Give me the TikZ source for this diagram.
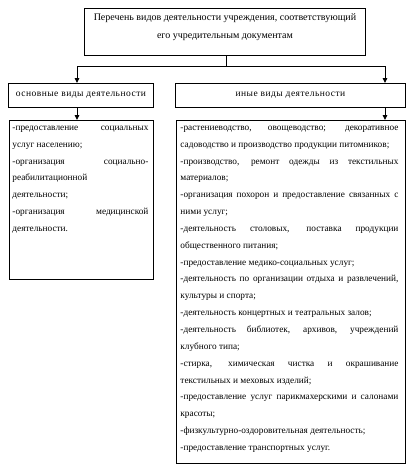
\documentclass[tikz,border=0pt]{standalone}
\usepackage{fontspec}
\setmainfont{Liberation Serif}
\usetikzlibrary{arrows.meta}
\begin{document}
\begin{tikzpicture}[x=1pt,y=-1pt,
  boxstyle/.style={draw, line width=0.9pt, inner sep=0pt, anchor=north west},
  headbox/.style={boxstyle, minimum height=24pt, align=center, font=\fontsize{9.5}{12}\selectfont\addfontfeature{LetterSpace=5}},
  conn/.style={line width=0.9pt},
  arr/.style={conn, -{Triangle[length=5pt,width=4.5pt]}},
  bodyfont/.style={font=\fontsize{9.3}{16.85}\selectfont}]
\useasboundingbox[fill=white] (0,0) rectangle (416,474);
% top box
\node[boxstyle, inner ysep=0pt, font=\fontsize{10}{18}\selectfont] (top) at (84,8)
  {\parbox[t][47pt][t]{281pt}{\centering\vspace*{5pt}Перечень видов деятельности учреждения, соответствующий\\его учредительным документам}};
% heads
\node[headbox, minimum width=145pt] (lhead) at (8,83) {основные виды деятельности};
\node[headbox, minimum width=230pt] (rhead) at (175,83) {иные виды деятельности};
% bodies
\node[boxstyle, bodyfont, inner ysep=5.5pt] (lbody) at (9,120)
  {\hspace*{3pt}\parbox[t][148pt][t]{136pt}{\hyphenpenalty=10000\tolerance=10000\hbadness=10000
  -предоставление социальных\linebreak услуг населению;\par
  -организация социально-\linebreak реабилитационной\\деятельности;\par
  -организация медицинской\linebreak деятельности.}\hspace*{5pt}};
\node[boxstyle, bodyfont, inner ysep=5.5pt] (rbody) at (176,120)
  {\hspace*{4pt}\parbox[t][332pt][t]{218pt}{\hyphenpenalty=10000\tolerance=10000\hbadness=10000
  -растениеводство, овощеводство; декоративное\linebreak садоводство и производство продукции питомников;\par
  -производство, ремонт одежды из текстильных\linebreak материалов;\par
  -организация похорон и предоставление связанных с\linebreak ними услуг;\par
  -деятельность столовых, поставка продукции\linebreak общественного питания;\par
  -предоставление медико-социальных услуг;\par
  -деятельность по организации отдыха и развлечений,\linebreak культуры и спорта;\par
  -деятельность концертных и театральных залов;\par
  -деятельность библиотек, архивов, учреждений\linebreak клубного типа;\par
  -стирка, химическая чистка и окрашивание\linebreak текстильных и меховых изделий;\par
  -предоставление услуг парикмахерскими и салонами\linebreak красоты;\par
  -физкультурно-оздоровительная деятельность;\par
  -предоставление транспортных услуг.}\hspace*{7pt}};
% connectors
\coordinate (lcol) at (77,0);
\coordinate (rcol) at (385,0);
\coordinate (junc) at (226,66);
\draw[conn] (top.south -| junc) -- (junc);
\draw[conn] (junc -| lcol) -- (junc -| rcol);
\draw[arr] (junc -| lcol) -- (lhead.north -| lcol);
\draw[arr] (junc -| rcol) -- (rhead.north -| rcol);
\draw[arr] (lhead.south -| lcol) -- (lbody.north -| lcol);
\draw[arr] (rhead.south -| rcol) -- (rbody.north -| rcol);
\end{tikzpicture}
\end{document}
